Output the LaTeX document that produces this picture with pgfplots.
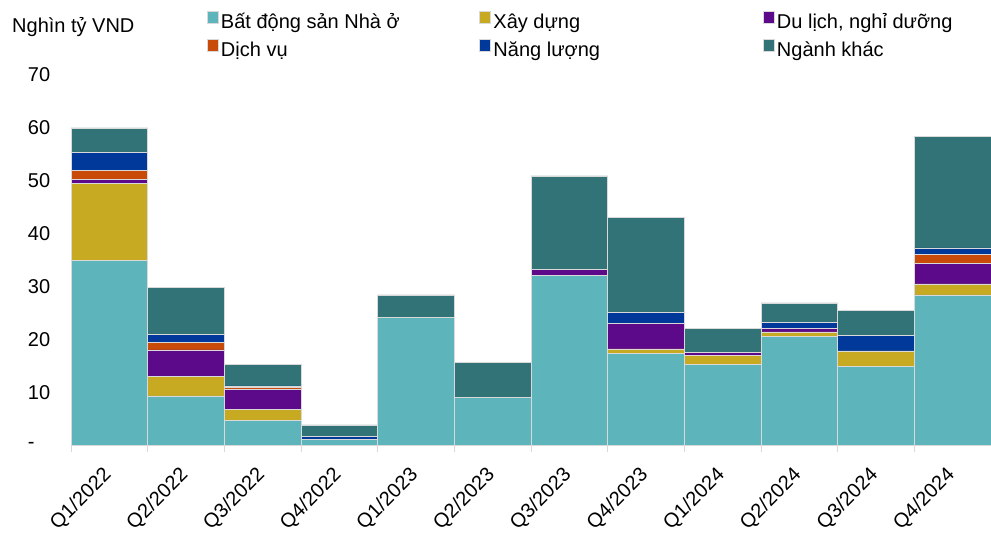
\documentclass[border=0pt]{standalone}
\usepackage{pgfplots}
\pgfplotsset{compat=1.18}
\usepackage{pgfplotstable}
\usepackage{fontspec}
\setmainfont{Liberation Sans}
\definecolor{cBDS}{HTML}{5EB4BB}
\definecolor{cXD}{HTML}{C8A922}
\definecolor{cDL}{HTML}{5C0A8A}
\definecolor{cDV}{HTML}{C84B0A}
\definecolor{cNL}{HTML}{00399A}
\definecolor{cNK}{HTML}{317376}
\definecolor{cAxis}{HTML}{D9D9D9}
\pgfplotstableread{
x BDS XD DL DV NL NK
0 35.0 14.5 0.8 1.6 3.5 4.6
1 9.3 3.7 5.0 1.4 1.5 8.9
2 4.7 2.0 3.8 0.4 0.3 4.0
3 1.0 0.0 0.0 0.0 0.6 2.2
4 24.1 0.1 0.0 0.0 0.0 4.2
5 9.0 0.0 0.0 0.0 0.0 6.6
6 32.1 0.0 1.1 0.0 0.0 17.7
7 17.3 0.9 4.8 0.0 2.1 17.9
8 15.2 1.8 0.5 0.0 0.0 4.5
9 20.5 0.9 0.6 0.0 1.2 3.7
10 14.9 2.9 0.0 0.0 2.9 4.8
11 28.4 2.1 3.8 1.8 1.2 21.1
}\datatable
\pgfplotsset{sqleg/.style={legend image code/.code={\fill[##1] (0bp,0bp) rectangle (11bp,12bp);}}}
\begin{document}
\fontsize{20bp}{24bp}\selectfont
\begin{tikzpicture}
\path[use as bounding box] (-71bp,-89bp) rectangle (920bp,445bp);
\begin{axis}[
  scale only axis, width=920bp, height=370bp,
  anchor=south west, at={(0,0)},
  xmin=-0.5, xmax=11.5, ymin=0, ymax=70,
  ybar stacked, bar width=1,
  axis x line*=bottom, axis y line*=left,
  x axis line style={cAxis, line width=1bp},
  y axis line style={draw=none},
  xtick={0,...,11},
  xticklabels={Q1/2022,Q2/2022,Q3/2022,Q4/2022,Q1/2023,Q2/2023,Q3/2023,Q4/2023,Q1/2024,Q2/2024,Q3/2024,Q4/2024},
  major x tick style={draw=none},
  minor xtick={-0.5,0.5,...,11.5},
  minor x tick style={cAxis, line width=1bp},
  minor tick length=7bp,
  tick align=outside,
  ytick={0,10,...,70},
  yticklabels={-,10,20,30,40,50,60,70},
  major y tick style={draw=none},
  xticklabel style={rotate=45, anchor=north east, inner sep=0pt, xshift=-16.6bp, yshift=-6bp},
  yticklabel style={anchor=west, inner sep=0pt, xshift=-39bp},
  legend columns=3,
  legend cell align=left,
  legend style={draw=none, fill=none, inner sep=0pt, outer sep=0pt,
    at={(0.1478,1.173)}, anchor=north west, row sep=6bp, column sep=0pt,
    nodes={inner xsep=2.5bp, inner ysep=0pt, text height=15bp, text depth=5bp}},
  every axis plot/.append style={draw=white!85!black, line width=0.5bp},
  clip=false,
]
\addplot[fill=cBDS, sqleg] table[x=x, y=BDS] {\datatable};
\addlegendentry{\makebox[256bp][l]{Bất động sản Nhà ở}}
\addplot[fill=cXD, sqleg] table[x=x, y=XD] {\datatable};
\addlegendentry{\makebox[267bp][l]{Xây dựng}}
\addplot[fill=cDL, sqleg] table[x=x, y=DL] {\datatable};
\addlegendentry{Du lịch, nghỉ dưỡng}
\addplot[fill=cDV, sqleg] table[x=x, y=DV] {\datatable};
\addlegendentry{\makebox[256bp][l]{Dịch vụ}}
\addplot[fill=cNL, sqleg] table[x=x, y=NL] {\datatable};
\addlegendentry{\makebox[267bp][l]{Năng lượng}}
\addplot[fill=cNK, sqleg] table[x=x, y=NK] {\datatable};
\addlegendentry{Ngành khác}
\end{axis}
\node[anchor=base west, inner sep=0pt] at (-59bp,412bp) {Nghìn tỷ VND};
\end{tikzpicture}
\end{document}
